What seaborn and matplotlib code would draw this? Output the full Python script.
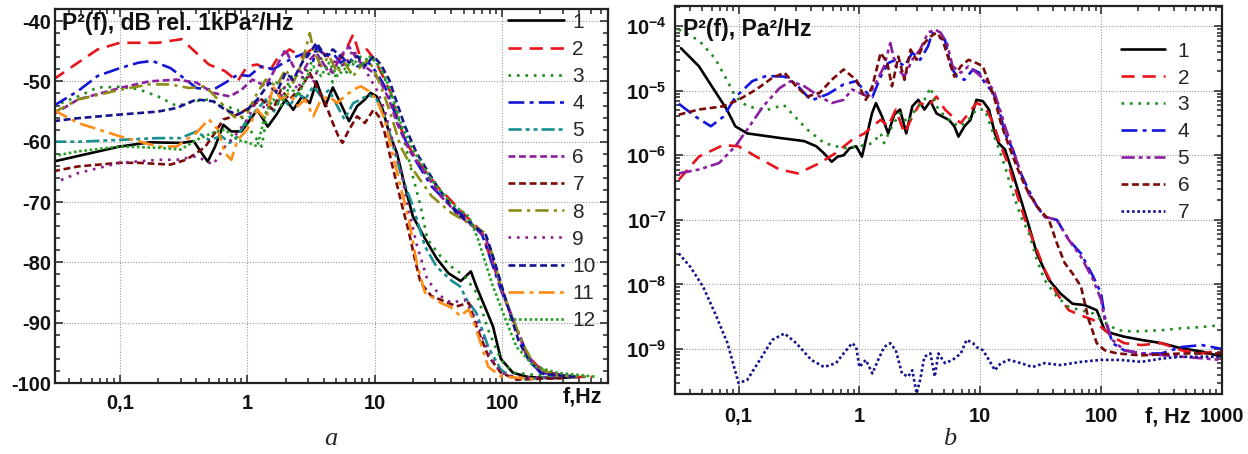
import numpy as np
import pandas as pd
import matplotlib
matplotlib.use("Agg")
import matplotlib.pyplot as plt
import matplotlib.ticker as mticker
import seaborn as sns

# ---------------- data: panel a (dB rel. 1 kPa^2/Hz), (f [Hz], level [dB]) ----------------
L1 = [(0.03, -63.3), (0.1, -60.8), (0.172, -60.1), (0.305, -60.2), (0.38, -59.9), (0.44, -61.9), (0.49, -63.3),
      (0.56, -60.8), (0.65, -57.2), (0.75, -58.3), (0.9, -58.3), (1.0, -57.0), (1.2, -54.7), (1.45, -57.5),
      (1.7, -55.5), (2.0, -53.0), (2.3, -54.7), (2.7, -52.5), (3.1, -53.6), (3.5, -50.0), (4.1, -54.1),
      (4.7, -51.0), (5.4, -53.6), (6.3, -56.6), (7.3, -54.1), (8.4, -53.0), (9.3, -51.9), (10.4, -52.5),
      (11.6, -54.7), (13, -58.5), (15, -61.9), (17.3, -67.4), (20, -72.4), (24.8, -76.0), (30.6, -79.3),
      (38, -81.8), (47.5, -83.1), (57, -81.5), (63, -84.0), (85, -90.6), (98, -96.0), (122, -98.3),
      (160, -99.0), (250, -99.2), (400, -99.0)]
L2 = [(0.03, -49.7), (0.047, -46.9), (0.067, -44.7), (0.1, -43.6), (0.2, -43.6), (0.305, -43.0), (0.4, -45.3),
      (0.5, -47.2), (0.67, -48.3), (0.84, -50.0), (1.0, -47.5), (1.2, -47.2), (1.5, -48.3), (1.7, -46.4),
      (2.15, -44.7), (2.7, -46.0), (3.3, -44.4), (4.1, -45.5), (5.1, -46.9), (5.8, -45.3), (6.8, -42.2),
      (7.6, -45.5), (8.7, -44.7), (10, -46.4), (11.6, -49.1), (13.4, -51.9), (15, -55.8), (17.3, -59.7),
      (21.4, -63.0), (31, -67.4), (44, -70.7), (59, -73.5), (70, -75.0), (78, -78.2), (98, -84.0),
      (122, -89.5), (153, -95.0), (190, -97.2), (237, -98.3), (390, -99.0), (510, -99.0)]
L3 = [(0.03, -54.1), (0.047, -52.5), (0.067, -51.0), (0.1, -50.9), (0.14, -51.3), (0.2, -52.5), (0.28, -54.1),
      (0.38, -53.3), (0.5, -53.0), (0.67, -54.1), (0.84, -54.7), (1.0, -57.4), (1.2, -59.7), (1.3, -60.8),
      (1.5, -53.0), (1.7, -50.2), (2.0, -51.4), (2.3, -48.6), (2.7, -49.7), (3.1, -47.5), (3.5, -44.7),
      (4.1, -47.5), (4.7, -50.2), (5.4, -46.9), (6.3, -49.1), (7.3, -45.3), (8.4, -46.9), (9.8, -46.1),
      (11.2, -48.0), (13, -51.3), (15, -55.2), (17.3, -60.2), (20, -65.8), (23, -70.7), (26, -76.2),
      (33, -79.0), (40, -80.7), (51, -82.3), (63, -85.0), (78, -91.2), (98, -96.1), (122, -98.3), (270, -99.0)]
L4 = [(0.03, -54.1), (0.047, -51.6), (0.067, -49.1), (0.1, -47.8), (0.14, -46.9), (0.18, -46.6), (0.25, -47.8),
      (0.33, -49.7), (0.4, -51.1), (0.54, -51.4), (0.7, -50.0), (0.84, -48.9), (1.04, -49.1), (1.2, -48.0),
      (1.3, -47.5), (1.6, -48.0), (1.84, -47.2), (2.3, -46.1), (2.85, -45.3), (3.3, -46.6), (3.5, -44.2),
      (4.1, -45.8), (4.7, -45.3), (5.4, -46.9), (6.3, -46.1), (7.3, -47.5), (9.0, -46.9), (10.4, -48.6),
      (12, -50.8), (13.8, -54.1), (16, -58.0), (20, -62.4), (28, -67.4), (40, -70.7), (55, -73.0),
      (70, -75.5), (80, -79.0), (98, -84.5), (122, -89.5), (142, -92.8), (162, -96.0), (200, -98.3),
      (300, -98.8), (450, -99.0)]
L5 = [(0.03, -60.0), (0.047, -60.0), (0.1, -59.7), (0.2, -59.4), (0.3, -59.4), (0.4, -58.3), (0.5, -59.7),
      (0.63, -59.1), (0.73, -60.2), (0.84, -59.1), (1.0, -56.3), (1.1, -55.5), (1.4, -53.0), (1.6, -55.2),
      (1.84, -52.5), (2.15, -54.1), (2.5, -51.9), (2.85, -53.0), (3.3, -50.8), (3.8, -52.5), (4.4, -51.4),
      (5.1, -54.1), (5.8, -56.3), (6.8, -53.6), (7.8, -53.0), (9.0, -52.2), (10.4, -53.0), (12, -55.8),
      (13.8, -60.2), (16, -65.2), (20, -70.7), (24.8, -77.3), (30.6, -80.7), (40, -83.0), (47, -84.0),
      (53, -86.2), (63, -88.4), (78, -94.0), (98, -97.8), (130, -99.5), (270, -99.0)]
L6 = [(0.03, -55.5), (0.047, -53.0), (0.1, -51.1), (0.17, -50.0), (0.28, -49.7), (0.4, -50.2), (0.54, -51.9),
      (0.73, -52.5), (0.9, -51.4), (1.1, -49.7), (1.4, -50.8), (1.7, -47.5), (2.0, -44.7), (2.3, -47.5),
      (2.7, -48.6), (3.1, -46.4), (3.5, -45.3), (4.1, -47.5), (4.7, -48.6), (5.4, -45.8), (6.3, -44.2),
      (7.3, -46.4), (8.4, -47.5), (9.8, -48.6), (11.2, -50.2), (13, -53.0), (15, -56.9), (18.6, -61.3),
      (25, -65.2), (33, -69.0), (47, -72.4), (63, -74.5), (75, -76.0), (85, -80.0), (105, -86.0),
      (130, -91.0), (160, -95.5), (200, -98.0), (350, -99.0)]
L7 = [(0.03, -64.9), (0.047, -64.1), (0.1, -63.5), (0.14, -63.5), (0.25, -63.8), (0.33, -63.0), (0.4, -61.9),
      (0.47, -60.8), (0.56, -58.5), (0.65, -56.3), (0.78, -55.8), (0.98, -54.7), (1.3, -53.0), (1.6, -54.7),
      (1.84, -51.4), (2.15, -53.0), (2.7, -50.8), (3.1, -48.6), (3.5, -50.8), (4.1, -53.6), (4.7, -56.9),
      (5.2, -59.1), (5.6, -60.2), (6.3, -58.0), (7.3, -55.8), (8.4, -56.9), (9.8, -54.7), (10.8, -55.8),
      (12, -58.5), (13.8, -64.0), (16, -69.6), (18.6, -75.0), (21, -80.0), (23, -83.4), (28, -85.6),
      (33, -86.2), (44, -87.3), (55, -86.7), (63, -90.6), (78, -95.5), (98, -98.3), (130, -99.4), (300, -99.2)]
L8 = [(0.03, -55.2), (0.047, -53.0), (0.1, -51.4), (0.17, -50.5), (0.25, -50.5), (0.35, -51.1), (0.47, -50.8),
      (0.59, -53.0), (0.73, -55.2), (0.84, -56.3), (1.0, -55.2), (1.2, -51.9), (1.4, -49.7), (1.7, -50.8),
      (2.0, -48.0), (2.3, -50.2), (2.7, -46.9), (3.1, -42.0), (3.3, -44.7), (3.8, -47.5), (4.4, -45.8),
      (5.1, -48.6), (5.8, -46.9), (6.8, -49.1), (7.8, -47.5), (9.0, -46.4), (10.4, -49.1), (12, -52.5),
      (13.8, -56.3), (16, -60.8), (20, -64.6), (28, -69.0), (40, -71.8), (55, -73.5), (72, -75.0),
      (82, -78.0), (100, -84.5), (125, -90.0), (150, -94.0), (180, -97.0), (250, -98.7), (500, -99.0)]
L9 = [(0.03, -66.9), (0.047, -65.2), (0.1, -63.5), (0.2, -63.0), (0.28, -63.0), (0.4, -62.4), (0.54, -63.8),
      (0.67, -60.8), (0.84, -58.5), (1.0, -56.3), (1.2, -53.0), (1.4, -54.7), (1.6, -50.8), (1.84, -52.5),
      (2.15, -49.1), (2.5, -51.4), (2.85, -48.0), (3.3, -50.2), (3.8, -46.4), (4.4, -48.6), (5.1, -45.8),
      (5.8, -47.5), (6.8, -44.7), (7.8, -46.9), (9.0, -49.1), (10.4, -51.4), (12, -54.7), (13.8, -59.7),
      (16, -64.6), (18, -70.0), (21.4, -77.0), (26, -82.9), (33, -85.6), (40, -86.7), (51, -86.2),
      (63, -89.5), (78, -95.0), (98, -98.3), (130, -99.1), (300, -99.0)]
L10 = [(0.03, -56.6), (0.047, -56.1), (0.1, -55.5), (0.2, -55.0), (0.28, -54.4), (0.4, -53.0), (0.54, -53.3),
       (0.67, -54.7), (0.84, -55.5), (1.0, -54.7), (1.2, -53.0), (1.5, -50.2), (1.7, -51.9), (2.0, -48.6),
       (2.3, -49.7), (2.7, -46.9), (3.1, -45.3), (3.5, -43.6), (4.1, -45.8), (4.7, -44.7), (5.4, -45.8),
       (6.3, -46.9), (7.3, -45.8), (8.4, -47.5), (9.8, -45.8), (11.2, -47.2), (13, -49.7), (15, -53.6),
       (17.3, -57.4), (21.4, -61.9), (31, -67.4), (44, -71.8), (59, -73.8), (75, -75.5), (88, -80.0),
       (110, -87.0), (135, -93.0), (165, -96.5), (210, -98.5), (400, -99.0)]
L11 = [(0.03, -54.7), (0.047, -56.9), (0.1, -59.1), (0.2, -60.8), (0.28, -60.8), (0.4, -58.5), (0.5, -56.3),
       (0.59, -58.0), (0.67, -61.9), (0.75, -63.0), (0.84, -59.7), (1.0, -58.0), (1.2, -54.7), (1.4, -56.3),
       (1.6, -50.8), (1.84, -53.0), (2.15, -51.9), (2.5, -54.1), (2.85, -53.0), (3.3, -55.8), (3.8, -53.0),
       (4.4, -52.5), (5.1, -53.6), (5.8, -52.5), (6.8, -51.4), (7.8, -50.8), (9.0, -51.6), (10.4, -53.0),
       (12, -56.3), (13.8, -61.9), (16, -67.4), (18.6, -73.0), (21.4, -80.0), (24.8, -85.0), (33, -86.7),
       (40, -87.5), (47, -88.9), (55, -87.8), (63, -91.2), (78, -97.3), (98, -98.9), (190, -99.4)]
L12 = [(0.03, -62.4), (0.047, -61.6), (0.1, -60.8), (0.2, -61.0), (0.3, -61.3), (0.4, -59.7), (0.54, -58.5),
       (0.67, -58.0), (0.84, -59.7), (1.04, -60.2), (1.2, -60.8), (1.4, -55.2), (1.6, -53.0), (1.84, -54.1),
       (2.15, -50.8), (2.5, -52.5), (2.85, -49.7), (3.3, -47.5), (3.8, -49.1), (4.4, -46.9), (5.1, -49.1),
       (5.8, -48.0), (6.8, -46.4), (7.8, -47.5), (9.0, -45.8), (10.4, -46.9), (12, -49.1), (13.8, -52.5),
       (16, -56.9), (20, -61.3), (28, -66.3), (40, -70.2), (55, -72.4), (65, -76.2), (85, -84.0),
       (107, -89.5), (130, -94.0), (178, -97.2), (270, -98.3), (560, -99.0)]

# ---------------- data: panel b, (f [Hz], log10 of P^2 [Pa^2/Hz]) ----------------
R1 = [(0.0334, -4.34), (0.047, -4.62), (0.064, -5.01), (0.08, -5.29), (0.094, -5.55), (0.118, -5.66),
      (0.218, -5.73), (0.35, -5.78), (0.44, -5.86), (0.51, -5.97), (0.59, -6.10), (0.66, -6.02), (0.74, -6.0),
      (0.83, -5.89), (0.94, -5.86), (1.05, -6.02), (1.27, -5.35), (1.37, -5.19), (1.54, -5.40), (1.73, -5.66),
      (1.94, -5.37), (2.17, -5.29), (2.44, -5.66), (2.74, -5.24), (3.07, -5.14), (3.45, -5.29), (3.87, -5.16),
      (4.34, -5.35), (4.87, -5.40), (5.5, -5.45), (6.1, -5.55), (6.6, -5.71), (7.4, -5.55), (8.3, -5.45),
      (9.3, -5.14), (10.5, -5.16), (11.8, -5.29), (13.2, -5.66), (14.2, -5.81), (16, -5.91), (18.6, -6.28),
      (21.7, -6.69), (25.3, -7.10), (29.4, -7.52), (37, -7.93), (46, -8.14), (58, -8.30), (73, -8.32),
      (92, -8.40), (107, -8.71), (124, -8.76), (155, -8.81), (215, -8.86), (315, -8.91), (460, -8.99),
      (680, -9.04), (1000, -9.12)]
R2 = [(0.032, -6.38), (0.047, -6.02), (0.075, -5.84), (0.1, -5.86), (0.14, -6.02), (0.218, -6.22), (0.31, -6.28),
      (0.47, -6.12), (0.63, -5.97), (0.87, -5.76), (1.1, -5.66), (1.28, -5.55), (1.5, -5.45), (1.73, -5.55),
      (2.0, -5.29), (2.36, -5.66), (2.74, -5.40), (3.18, -5.19), (3.7, -5.24), (4.34, -5.09), (5.1, -5.29),
      (5.9, -5.40), (6.9, -5.50), (8.0, -5.35), (9.3, -5.19), (10.9, -5.24), (12.8, -5.50), (14.8, -5.86),
      (17.3, -6.17), (20, -6.59), (23.5, -7.0), (27.2, -7.31), (34.3, -7.78), (43, -8.14), (54, -8.40),
      (68, -8.48), (86, -8.55), (100, -8.66), (124, -8.81), (155, -8.91), (215, -8.94), (315, -8.91),
      (460, -9.02), (680, -9.07), (1000, -9.02)]
R3 = [(0.032, -4.05), (0.047, -4.22), (0.064, -4.50), (0.08, -4.83), (0.094, -5.09), (0.118, -5.24), (0.17, -5.30),
      (0.237, -5.22), (0.37, -5.60), (0.51, -5.81), (0.74, -5.89), (1.0, -5.86), (1.29, -5.81), (1.5, -5.66),
      (1.6, -5.81), (1.86, -5.55), (2.17, -5.35), (2.5, -5.50), (2.9, -5.29), (3.45, -5.14), (3.87, -4.95),
      (4.34, -5.24), (5.1, -5.40), (5.9, -5.50), (6.9, -5.55), (8.0, -5.45), (9.3, -5.29), (10.9, -5.29),
      (12.8, -5.66), (14.3, -5.91), (16, -6.17), (18.6, -6.59), (21.7, -6.95), (25.3, -7.21), (29.4, -7.62),
      (34, -7.93), (43, -8.19), (54, -8.35), (68, -8.40), (86, -8.45), (100, -8.55), (136, -8.71),
      (185, -8.73), (315, -8.71), (460, -8.68), (680, -8.66), (1000, -8.63)]
R4 = [(0.032, -5.20), (0.044, -5.40), (0.059, -5.55), (0.075, -5.40), (0.094, -5.10), (0.13, -4.85), (0.17, -4.77),
      (0.24, -4.78), (0.3, -4.90), (0.4, -5.15), (0.55, -5.05), (0.74, -4.90), (0.94, -4.85), (1.1, -5.0),
      (1.28, -5.10), (1.5, -4.78), (1.73, -4.57), (2.0, -4.52), (2.36, -4.62), (2.74, -4.41), (3.18, -4.52),
      (3.7, -4.31), (4.0, -4.10), (4.34, -4.16), (5.1, -4.21), (5.7, -4.62), (6.4, -4.78), (7.4, -4.83),
      (8.7, -4.67), (9.8, -4.72), (10.9, -4.88), (12.8, -5.03), (14.3, -5.29), (16, -5.66), (18.6, -5.91),
      (21.7, -6.28), (25, -6.53), (29.4, -6.79), (34, -6.95), (43, -7.0), (54, -7.31), (68, -7.52),
      (86, -7.88), (100, -8.14), (107, -8.50), (124, -8.91), (155, -9.02), (215, -9.07), (315, -9.07),
      (460, -8.97), (680, -8.94), (1000, -9.0)]
R5 = [(0.032, -6.28), (0.047, -6.22), (0.069, -6.12), (0.094, -5.86), (0.118, -5.60), (0.16, -5.24), (0.218, -4.96),
      (0.27, -4.85), (0.35, -4.93), (0.47, -5.09), (0.59, -5.19), (0.74, -5.14), (0.87, -4.98), (1.0, -5.03),
      (1.18, -5.09), (1.37, -4.88), (1.6, -4.62), (1.8, -4.26), (2.0, -4.62), (2.36, -4.78), (2.74, -4.52),
      (3.18, -4.36), (3.7, -4.10), (4.2, -4.05), (4.7, -4.10), (5.3, -4.26), (5.9, -4.62), (6.9, -4.72),
      (8.0, -4.62), (9.3, -4.72), (10.9, -4.83), (12.8, -4.98), (14.3, -5.24), (16, -5.55), (18.6, -5.91),
      (21.7, -6.28), (25, -6.59), (29.4, -6.79), (34, -6.95), (43, -7.0), (54, -7.31), (68, -7.57),
      (86, -7.93), (100, -8.24), (107, -8.55), (124, -8.86), (155, -9.02), (215, -9.07), (460, -9.12),
      (1000, -9.17)]
R6 = [(0.032, -5.37), (0.047, -5.29), (0.075, -5.24), (0.1, -5.14), (0.14, -4.98), (0.19, -4.80), (0.24, -4.72),
      (0.3, -4.93), (0.37, -5.09), (0.47, -5.03), (0.59, -4.83), (0.74, -4.67), (0.94, -4.83), (1.13, -5.14),
      (1.28, -4.93), (1.5, -4.41), (1.7, -4.57), (1.86, -4.93), (2.1, -4.47), (2.36, -4.83), (2.65, -4.36),
      (2.97, -4.52), (3.45, -4.26), (3.87, -4.16), (4.34, -4.10), (4.87, -4.21), (5.5, -4.52), (6.1, -4.78),
      (6.9, -4.62), (8.0, -4.52), (9.3, -4.57), (10.5, -4.62), (11.8, -4.88), (13.2, -5.14), (14.8, -5.50),
      (17.3, -5.86), (20, -6.17), (23.5, -6.48), (29.4, -6.79), (37, -7.0), (43, -7.36), (50, -7.67),
      (58, -7.83), (68, -8.03), (79, -8.55), (92, -8.91), (107, -9.02), (136, -9.07), (215, -9.10),
      (460, -9.07), (1000, -9.07)]
R7 = [(0.032, -7.52), (0.04, -7.73), (0.051, -8.04), (0.064, -8.45), (0.081, -8.91), (0.1, -9.53), (0.118, -9.48),
      (0.15, -9.17), (0.19, -8.86), (0.24, -8.76), (0.3, -8.91), (0.4, -9.17), (0.51, -9.28), (0.64, -9.22),
      (0.74, -9.07), (0.87, -8.91), (0.94, -8.97), (1.0, -9.28), (1.13, -9.17), (1.28, -9.38), (1.43, -9.17),
      (1.6, -8.97), (1.8, -8.91), (2.0, -9.02), (2.25, -9.38), (2.53, -9.43), (2.74, -9.33), (2.97, -9.69),
      (3.18, -9.48), (3.45, -9.12), (3.87, -9.07), (4.2, -9.43), (4.5, -9.07), (5.1, -9.22), (5.9, -9.17),
      (6.9, -9.07), (7.7, -8.86), (8.7, -8.91), (9.3, -8.97), (10.5, -9.02), (11.8, -9.17), (13.2, -9.33),
      (14.8, -9.22), (17.3, -9.17), (21.7, -9.22), (27, -9.28), (34, -9.22), (46, -9.25), (68, -9.20),
      (100, -9.17), (145, -9.17), (215, -9.20), (315, -9.15), (460, -9.12), (680, -9.12), (1000, -9.12)]

LEFT_SERIES = [L1, L2, L3, L4, L5, L6, L7, L8, L9, L10, L11, L12]
RIGHT_SERIES = [R1, R2, R3, R4, R5, R6, R7]
LEFT_LABELS = [str(i) for i in range(1, 13)]
RIGHT_LABELS = [str(i) for i in range(1, 8)]
X_TICKS_A = [0.1, 1, 10, 100]
X_TICKLABELS_A = ["0,1", "1", "10", "100"]
X_TICKS_B = [0.1, 1, 10, 100, 1000]
X_TICKLABELS_B = ["0,1", "1", "10", "100", "1000"]
Y_TICKS_A = [-100, -90, -80, -70, -60, -50, -40]
Y_TICKS_B = [1e-9, 1e-8, 1e-7, 1e-6, 1e-5, 1e-4]
Y_TICKLABELS_B = [r"$\mathbf{10^{-9}}$", r"$\mathbf{10^{-8}}$", r"$\mathbf{10^{-7}}$",
                  r"$\mathbf{10^{-6}}$", r"$\mathbf{10^{-5}}$", r"$\mathbf{10^{-4}}$"]

# ---------------- styles ----------------
LEFT_STYLES = [
    ("#000000", "-"),
    ("#e8141c", (0, (5, 3))),
    ("#1e8c1e", (0, (1, 2.2))),
    ("#1414d2", (0, (6, 2, 1.5, 2))),
    ("#189090", (0, (5, 1.5, 1.5, 1.5, 1.5, 1.5))),
    ("#8c1ea0", (0, (2.6, 1.4))),
    ("#7a0a0a", (0, (2.6, 1.4))),
    ("#8c8c14", (0, (5, 2, 1.2, 2))),
    ("#8a1e8a", (0, (1, 2.2))),
    ("#14148c", (0, (2.6, 1.4))),
    ("#ff8c14", (0, (6, 2, 1.5, 2))),
    ("#28a028", (0, (1, 1))),
]
RIGHT_STYLES = [
    ("#000000", "-"),
    ("#e8141c", (0, (5, 3))),
    ("#1e8c1e", (0, (1, 2.2))),
    ("#1414e0", (0, (6, 2, 1.5, 2))),
    ("#8c1ea0", (0, (5, 1.5, 1.5, 1.5, 1.5, 1.5))),
    ("#7a0a0a", (0, (2.6, 1.4))),
    ("#14148c", (0, (1, 1))),
]

sns.set_style("ticks")
FONT = ["Liberation Sans", "DejaVu Sans"]
plt.rcParams["font.family"] = FONT
plt.rcParams["mathtext.fontset"] = "custom"
plt.rcParams["mathtext.bf"] = "Liberation Sans:bold"
plt.rcParams["mathtext.rm"] = "Liberation Sans"

TICKFS = 14.5

W, H = 1248, 454
fig = plt.figure(figsize=(W / 100, H / 100), dpi=100)
axA = fig.add_axes([55 / W, 1 - 383 / H, (608 - 55) / W, (383 - 9) / H])
axB = fig.add_axes([675 / W, 1 - 393.5 / H, (1222 - 675) / W, (393.5 - 6) / H])

LW = 1.9

for data, lab, (col, ls) in zip(LEFT_SERIES, LEFT_LABELS, LEFT_STYLES):
    df = pd.DataFrame(data, columns=["f", "v"])
    sns.lineplot(data=df, x="f", y="v", ax=axA, color=col, linestyle=ls, lw=LW,
                 label=lab, estimator=None, sort=False)

for data, lab, (col, ls) in zip(RIGHT_SERIES, RIGHT_LABELS, RIGHT_STYLES):
    df = pd.DataFrame(data, columns=["f", "logp"])
    df["p"] = 10.0 ** df["logp"]
    sns.lineplot(data=df, x="f", y="p", ax=axB, color=col, linestyle=ls, lw=LW,
                 label=lab, estimator=None, sort=False)

for ax in (axA, axB):
    ax.set_xscale("log")
    ax.set_xlabel("")
    ax.set_ylabel("")
    ax.set_axisbelow(True)
    ax.grid(True, which="major", color="#9a9a9a", linestyle=(0, (1, 1.5)), lw=0.8)
    for sp in ax.spines.values():
        sp.set_linewidth(1.6)
        sp.set_color("#222222")
    ax.tick_params(which="both", direction="in", top=True, right=True, width=1.1, colors="#222222")
    ax.tick_params(which="major", length=6)
    ax.tick_params(which="minor", length=3.5)
    ax.xaxis.set_minor_locator(mticker.LogLocator(base=10, subs=np.arange(2, 10)))
    ax.xaxis.set_minor_formatter(mticker.NullFormatter())

# panel a axes
axA.set_xlim(0.031, 680)
axA.set_ylim(-100, -38)
axA.xaxis.set_major_locator(mticker.FixedLocator(X_TICKS_A))
axA.xaxis.set_major_formatter(mticker.FixedFormatter(X_TICKLABELS_A))
axA.yaxis.set_major_locator(mticker.FixedLocator(Y_TICKS_A))
axA.yaxis.set_major_formatter(mticker.FixedFormatter([str(t) for t in Y_TICKS_A]))
axA.yaxis.set_minor_locator(mticker.MultipleLocator(2))
axA.tick_params(axis="x", which="major", pad=8)
axA.tick_params(axis="y", which="major", pad=3)

# panel b axes
axB.set_yscale("log")
axB.set_xlim(0.0298, 1000)
axB.set_ylim(2.04e-10, 2.06e-4)
axB.xaxis.set_major_locator(mticker.FixedLocator(X_TICKS_B))
axB.xaxis.set_major_formatter(mticker.FixedFormatter(X_TICKLABELS_B))
axB.yaxis.set_major_locator(mticker.FixedLocator(Y_TICKS_B))
axB.yaxis.set_major_formatter(mticker.FixedFormatter(Y_TICKLABELS_B))
axB.yaxis.set_minor_locator(mticker.LogLocator(base=10, subs=np.arange(2, 10), numticks=20))
axB.yaxis.set_minor_formatter(mticker.NullFormatter())
axB.tick_params(axis="x", which="major", pad=10)
axB.tick_params(axis="y", which="major", pad=6)

for ax in (axA, axB):
    for t in ax.get_xticklabels() + ax.get_yticklabels():
        t.set_fontweight("bold")
        t.set_fontsize(TICKFS)
        t.set_color("#111111")

# legends
legA = axA.legend(loc="upper right", bbox_to_anchor=(0.978, 0.99), frameon=False, fontsize=15,
                  handlelength=2.7, handletextpad=0.4, labelspacing=0.39, borderaxespad=0, borderpad=0)
legB = axB.legend(loc="upper right", bbox_to_anchor=(0.94, 0.908), frameon=False, fontsize=15,
                  handlelength=2.1, handletextpad=0.6, labelspacing=0.38, borderaxespad=0, borderpad=0)

# titles inside the plots
axA.text(0.012, 0.962, "P\u00b2(f), dB rel. 1kPa\u00b2/Hz", transform=axA.transAxes, ha="left", va="center",
         fontsize=16.5, fontweight="bold", color="#111111")
axB.text(0.014, 0.94, "P\u00b2(f), Pa\u00b2/Hz", transform=axB.transAxes, ha="left", va="center",
         fontsize=16.5, fontweight="bold", color="#111111")

# axis names at the right end
axA.text(0.953, -0.038, "f,Hz", transform=axA.transAxes, ha="center", va="center",
         fontsize=15.5, fontweight="bold", color="#111111")
axB.text(0.90, -0.06, "f, Hz", transform=axB.transAxes, ha="center", va="center",
         fontsize=15.5, fontweight="bold", color="#111111")

# sub-figure captions, centred under each panel
fig.text(331 / W, 0.032, "a", ha="center", va="center", fontsize=19, style="italic",
         family=["Liberation Serif", "DejaVu Serif"])
fig.text(950 / W, 0.032, "b", ha="center", va="center", fontsize=19, style="italic",
         family=["Liberation Serif", "DejaVu Serif"])

fig.savefig("out.png", dpi=100)
